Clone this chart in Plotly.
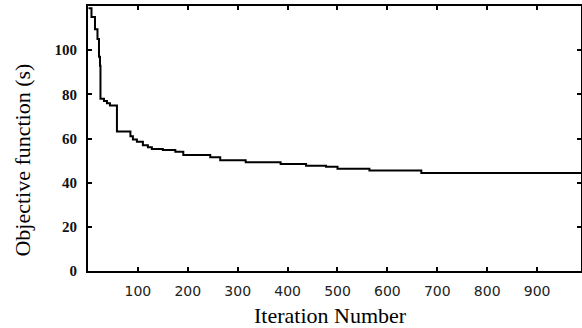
import plotly.graph_objects as go

iterations = [1, 7, 14, 19, 22, 24, 25, 32, 38, 44, 58, 85, 90, 98, 110, 120, 128, 150, 175, 191, 245, 265, 316, 386, 437, 477, 500, 564, 668, 1000]
objective = [119, 115, 109.5, 105, 97, 93, 78, 77, 76, 75, 63.2, 61, 59.5, 58.5, 57, 56, 55.2, 54.8, 54, 52.5, 51.5, 50.2, 49.2, 48.5, 47.7, 47.2, 46.3, 45.5, 44.4, 44.4]

x_ticks = [100, 200, 300, 400, 500, 600, 700, 800, 900]
y_ticks = [0, 20, 40, 60, 80, 100]

fig = go.Figure()
fig.add_trace(go.Scatter(
    x=iterations, y=objective, mode="lines",
    line=dict(color="black", width=2, shape="hv"),
    showlegend=False, hoverinfo="skip",
))

fig.update_layout(
    width=582, height=328,
    margin=dict(l=88, r=1, t=6, b=57, autoexpand=False),
    paper_bgcolor="white", plot_bgcolor="white",
    xaxis=dict(
        range=[0, 988], tickvals=x_ticks, ticktext=[str(v) for v in x_ticks],
        showgrid=False, zeroline=False, automargin=False,
        showline=True, linecolor="black", linewidth=2, mirror="ticks",
        ticks="inside", ticklen=4, tickwidth=1.5, tickcolor="black",
        tickfont=dict(family="DejaVu Sans", size=14, color="#222"),
        ticklabelstandoff=6,
    ),
    yaxis=dict(
        range=[0, 120], tickvals=y_ticks, ticktext=[str(v) for v in y_ticks],
        showgrid=False, zeroline=False, automargin=False,
        showline=True, linecolor="black", linewidth=2, mirror="ticks",
        ticks="inside", ticklen=4, tickwidth=1.5, tickcolor="black",
        tickfont=dict(family="Liberation Serif", size=15, color="#111", weight="bold"),
        ticklabelstandoff=6,
    ),
    annotations=[
        dict(text="Iteration Number", xref="paper", yref="paper", x=0.491, y=-0.168,
             xanchor="center", yanchor="middle", showarrow=False,
             font=dict(family="Liberation Serif", size=22, color="black")),
        dict(text="Objective function (s)", xref="paper", yref="paper", x=-0.132, y=0.42,
             xanchor="center", yanchor="middle", showarrow=False, textangle=-90,
             font=dict(family="Liberation Serif", size=22, color="black")),
    ],
)

fig.write_html("out.html", config={"displayModeBar": False},
               post_script="document.body.style.margin='0';")
